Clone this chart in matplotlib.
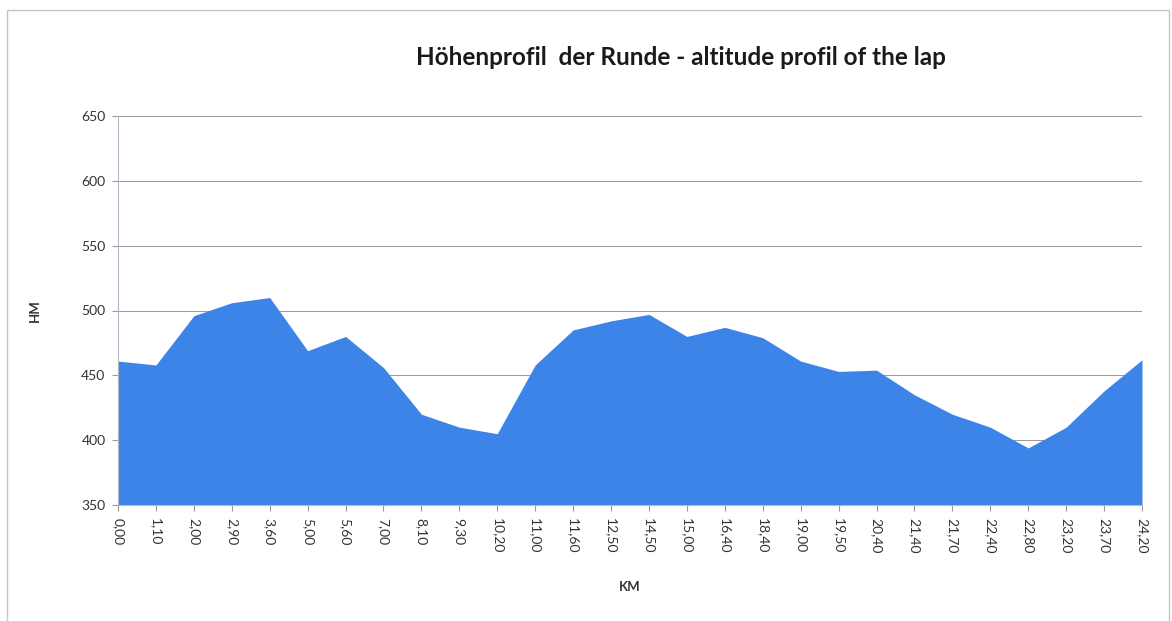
import matplotlib.pyplot as plt
from matplotlib.patches import Rectangle

# Kilometre marks (category axis) and altitude (HM)
km_labels = ['0,00', '1,10', '2,00', '2,90', '3,60', '5,00', '5,60', '7,00',
             '8,10', '9,30', '10,20', '11,00', '11,60', '12,50', '14,50', '15,00',
             '16,40', '18,40', '19,00', '19,50', '20,40', '21,40', '21,70', '22,40',
             '22,80', '23,20', '23,70', '24,20']
altitude = [461, 458, 496, 506, 510, 469, 480, 456,
            420, 410, 405, 458, 485, 492, 497, 480,
            487, 479, 461, 453, 454, 435, 420, 410,
            394, 410, 438, 462]
y_ticks = [350, 400, 450, 500, 550, 600, 650]

plt.rcParams['font.family'] = ['Lato', 'DejaVu Sans']

fig = plt.figure(figsize=(11.72, 6.21), dpi=100)
fig.patch.set_facecolor('white')

# outer chart frame
fig.patches.append(Rectangle((7 / 1172, -0.01), 1162 / 1172, 1 - 10 / 621 + 0.01,
                             transform=fig.transFigure, fill=False,
                             edgecolor='#c4c4c4', linewidth=1.0))

ax = fig.add_axes([118 / 1172, (621 - 505) / 621, (1142 - 118) / 1172, (505 - 116) / 621])

x = list(range(len(km_labels)))
ax.fill_between(x, 350, altitude, color='#3d84e8', linewidth=0, zorder=2)

ax.set_xlim(0, len(km_labels) - 1)
ax.set_ylim(350, 650)
ax.set_yticks(y_ticks)
ax.set_xticks(x)
ax.set_xticklabels(km_labels, rotation=-90, fontsize=10, color='#333333')
ax.tick_params(axis='y', labelsize=10, colors='#333333', length=4, color='#999999', pad=5)
ax.tick_params(axis='x', length=4, color='#999999', pad=5)

ax.yaxis.grid(True, color='#9a9a9a', linewidth=0.7, zorder=1)
ax.set_axisbelow(True)
for side in ['top', 'right']:
    ax.spines[side].set_visible(False)
ax.spines['left'].set_color('#b0b8c8')
ax.spines['bottom'].set_color('#b0b8c8')

ax.set_xlabel('KM', fontsize=9.5, fontweight='bold', color='#333333', labelpad=20)
ax.set_ylabel('HM', fontsize=9.5, fontweight='bold', color='#333333', labelpad=29)

fig.text(0.581, 0.907, 'Höhenprofil  der Runde - altitude profil of the lap',
         ha='center', va='center', fontsize=17.5, fontweight='bold', color='#1a1a1a')

plt.savefig('out.png', dpi=100)
